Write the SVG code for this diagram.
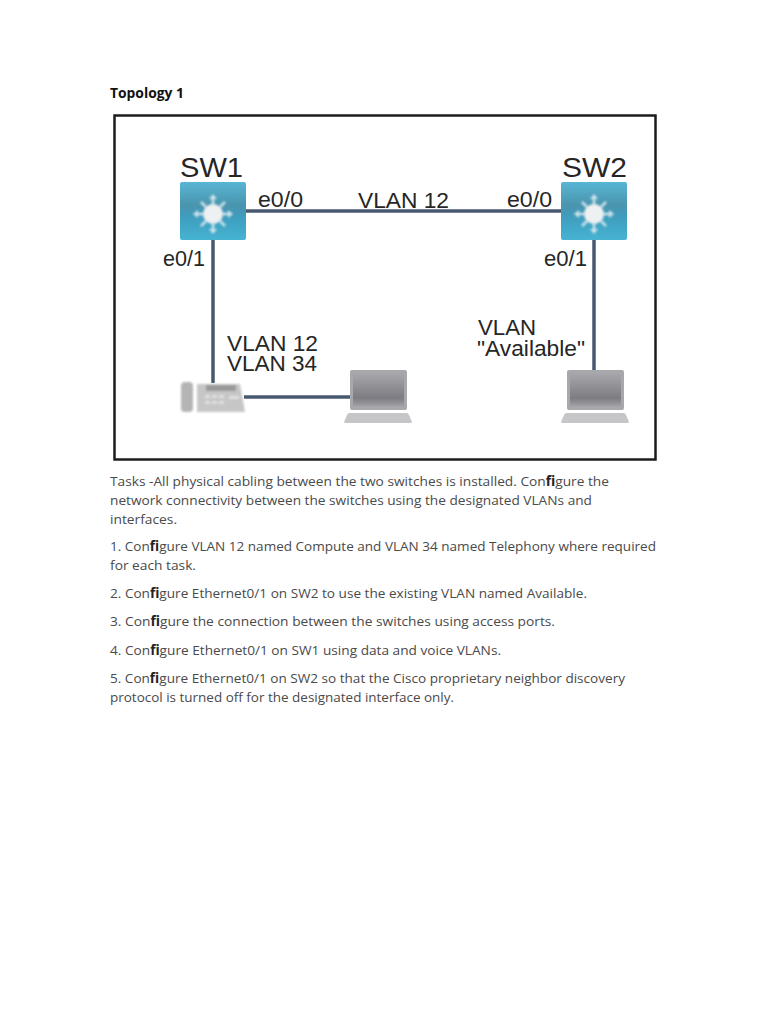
<svg xmlns="http://www.w3.org/2000/svg" width="768" height="1024" viewBox="0 0 768 1024">
<style>
.d{font-family:"Liberation Sans",Arial,sans-serif;fill:#262626}
.s{font-size:28px}
.l{font-size:22.500px}
.b{font-family:"Open Sans","Noto Sans",sans-serif;font-size:13.500px;fill:#4a4a4a}
.fi{font-weight:700;fill:#222}
.h{font-family:"Open Sans","Noto Sans",sans-serif;font-size:13.500px;font-weight:700;fill:#111}
.c{stroke:#46586f;fill:none}
</style>
<defs>
<filter id="soft" x="-5%" y="-5%" width="110%" height="110%"><feGaussianBlur stdDeviation="0.600"/></filter>
<filter id="soft2" x="-10%" y="-10%" width="120%" height="120%"><feGaussianBlur stdDeviation="0.900"/></filter>
<linearGradient id="sw" x1="0" y1="0" x2="0" y2="1"><stop offset="0" stop-color="#58b6d4"/><stop offset=".4" stop-color="#4a94ae"/><stop offset=".6" stop-color="#3f9dbd"/><stop offset="1" stop-color="#46b3d3"/></linearGradient>
<linearGradient id="lt" x1="0" y1="0" x2="0" y2="1"><stop offset="0" stop-color="#a6a6aa"/><stop offset=".75" stop-color="#7c7c82"/><stop offset="1" stop-color="#a0a0a4"/></linearGradient>
<g id="swi">
<rect x="0" y="0" width="66" height="58" rx="2" fill="url(#sw)"/>
<g filter="url(#soft2)">
<circle cx="33" cy="32" r="10" fill="#eef1f2"/>
<g stroke="#cfe4ec" stroke-width="2.500" fill="none">
<path d="M33 22V15M33 42V49M23 32H16M43 32H50M26 25L21 20M40 25L45 20M26 39L21 44M40 39L45 44"/>
</g>
<g fill="#cfe4ec"><path d="M33 12l-4 5h8zM33 52l-4-5h8zM13 32l5-4v8zM53 32l-5-4v8z"/></g>
</g>
</g>
<g id="lap">
<rect x="6" y="0" width="57" height="40" rx="2" fill="#a8a8ac"/>
<rect x="9" y="4" width="51" height="32" fill="url(#lt)"/>
<path d="M5 43H63Q64 43 65 45L68 52Q68 53 66 53H2Q0 53 0 52L3 45Q4 43 5 43Z" fill="#c6c6c8"/>
</g>
</defs>

<rect width="768" height="1024" fill="#fff"/>
<text class="h" x="110" y="98" textLength="74" lengthAdjust="spacingAndGlyphs">Topology 1</text>

<rect x="114.500" y="115.500" width="541" height="344" fill="#fff" stroke="#1c1c1c" stroke-width="2.500"/>

<g id="connectors" filter="url(#soft)">
<path class="c" stroke-width="3.500" d="M246 211H561"/>
<path class="c" stroke-width="3.500" d="M213 240V383"/>
<path class="c" stroke-width="3.500" d="M594 240V371"/>
<path class="c" stroke-width="3.500" d="M244 397H351"/>
</g>

<g id="sw1"><use href="#swi" x="180" y="182" filter="url(#soft)"/><text class="d s" x="180" y="177" textLength="63" lengthAdjust="spacingAndGlyphs">SW1</text></g>
<g id="sw2"><use href="#swi" x="561" y="182" filter="url(#soft)"/><text class="d s" x="562" y="177" textLength="65" lengthAdjust="spacingAndGlyphs">SW2</text></g>

<g id="phone" filter="url(#soft2)">
<rect x="181" y="382" width="12" height="30" rx="4" fill="#b4b4b4"/>
<path d="M197 384H240L245 412H197Z" fill="#c6c6c6"/>
<rect x="206" y="385" width="30" height="6" fill="#999"/>
<g fill="#e0e0e0"><rect x="205" y="395" width="5" height="3"/><rect x="212" y="395" width="5" height="3"/><rect x="219" y="395" width="5" height="3"/><rect x="205" y="401" width="5" height="3"/><rect x="212" y="401" width="5" height="3"/><rect x="219" y="401" width="5" height="3"/><rect x="229" y="396" width="10" height="3"/></g>
</g>
<g id="laptop1"><use href="#lap" x="344" y="370" filter="url(#soft)"/></g>
<g id="laptop2"><use href="#lap" x="561" y="370" filter="url(#soft)"/></g>

<g id="labels">
<text class="d l" x="258" y="207" textLength="45" lengthAdjust="spacingAndGlyphs">e0/0</text>
<text class="d l" x="358" y="208" textLength="91" lengthAdjust="spacingAndGlyphs">VLAN 12</text>
<text class="d l" x="507" y="207" textLength="45" lengthAdjust="spacingAndGlyphs">e0/0</text>
<text class="d l" x="163" y="266" textLength="42" lengthAdjust="spacingAndGlyphs">e0/1</text>
<text class="d l" x="544" y="266" textLength="43" lengthAdjust="spacingAndGlyphs">e0/1</text>
<text class="d l" x="227" y="351" textLength="91" lengthAdjust="spacingAndGlyphs">VLAN 12</text>
<text class="d l" x="227" y="371" textLength="90" lengthAdjust="spacingAndGlyphs">VLAN 34</text>
<text class="d l" x="478" y="335" textLength="58" lengthAdjust="spacingAndGlyphs">VLAN</text>
<text class="d l" x="477" y="356" textLength="108" lengthAdjust="spacingAndGlyphs">"Available"</text>
</g>

<g id="tasks">
<text class="b" x="110" y="486" textLength="499" lengthAdjust="spacingAndGlyphs">Tasks -All physical cabling between the two switches is installed. Con<tspan class="fi">fi</tspan>gure the</text>
<text class="b" x="110" y="505" textLength="482" lengthAdjust="spacingAndGlyphs">network connectivity between the switches using the designated VLANs and</text>
<text class="b" x="110" y="524" textLength="67" lengthAdjust="spacingAndGlyphs">interfaces.</text>
<text class="b" x="110" y="551" textLength="546" lengthAdjust="spacingAndGlyphs">1. Con<tspan class="fi">fi</tspan>gure VLAN 12 named Compute and VLAN 34 named Telephony where required</text>
<text class="b" x="110" y="570" textLength="86" lengthAdjust="spacingAndGlyphs">for each task.</text>
<text class="b" x="110" y="598" textLength="477" lengthAdjust="spacingAndGlyphs">2. Con<tspan class="fi">fi</tspan>gure Ethernet0/1 on SW2 to use the existing VLAN named Available.</text>
<text class="b" x="110" y="626" textLength="445" lengthAdjust="spacingAndGlyphs">3. Con<tspan class="fi">fi</tspan>gure the connection between the switches using access ports.</text>
<text class="b" x="110" y="655" textLength="391" lengthAdjust="spacingAndGlyphs">4. Con<tspan class="fi">fi</tspan>gure Ethernet0/1 on SW1 using data and voice VLANs.</text>
<text class="b" x="110" y="683" textLength="515" lengthAdjust="spacingAndGlyphs">5. Con<tspan class="fi">fi</tspan>gure Ethernet0/1 on SW2 so that the Cisco proprietary neighbor discovery</text>
<text class="b" x="110" y="702" textLength="344" lengthAdjust="spacingAndGlyphs">protocol is turned off for the designated interface only.</text>
</g>
</svg>
